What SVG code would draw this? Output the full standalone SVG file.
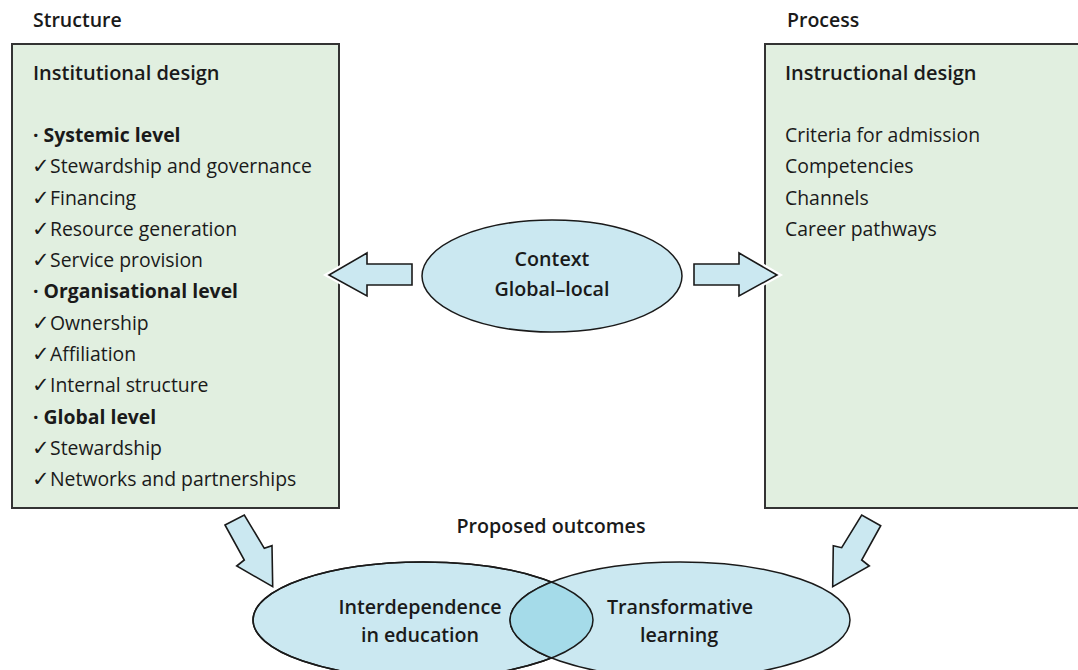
<svg xmlns="http://www.w3.org/2000/svg" width="1078" height="670" viewBox="0 0 1078 670">
  <style>
    .head { font-family: "Open Sans", "Noto Sans", sans-serif; font-size: 19.5px; font-weight: 600; fill: #1a1a1a; }
    .title { font-family: "Open Sans", "Noto Sans", sans-serif; font-size: 20px; font-weight: 600; fill: #1a1a1a; }
    .item { font-family: "Open Sans", "Noto Sans", sans-serif; font-size: 19.4px; fill: #1a1a1a; }
    .lvl { font-family: "Open Sans", "Noto Sans", sans-serif; font-size: 19.4px; font-weight: 700; fill: #1a1a1a; }
    .chk { font-family: "DejaVu Sans", sans-serif; font-size: 21px; font-weight: 700; fill: #1a1a1a; }
    .lbl { font-family: "Open Sans", "Noto Sans", sans-serif; font-size: 19.7px; font-weight: 600; fill: #1a1a1a; text-anchor: middle; }
    .box { fill: #e1efe0; stroke: #333; stroke-width: 2; }
    .oval { fill: #cbe8f1; stroke: #1a1a1a; stroke-width: 1.5; }
    .arrow-halo { fill: none; stroke: #fff; stroke-width: 6; stroke-linejoin: miter; }
    .arrow { fill: #cbe8f1; stroke: #1a1a1a; stroke-width: 1.6; stroke-linejoin: miter; }
  </style>

  <rect width="1078" height="670" fill="#fff"/>

  <!-- Structure column -->
  <g id="structure">
    <text class="head" x="33" y="27">Structure</text>
    <rect class="box" x="12" y="44" width="327" height="464"/>
    <text class="title" x="33" y="80">Institutional design</text>
    <text class="lvl" x="33" y="142">· Systemic level</text>
    <text class="chk" x="32" y="173.3">✓</text><text class="item" x="50" y="173.3">Stewardship and governance</text>
    <text class="chk" x="32" y="204.5">✓</text><text class="item" x="50" y="204.5">Financing</text>
    <text class="chk" x="32" y="235.7">✓</text><text class="item" x="50" y="235.7">Resource generation</text>
    <text class="chk" x="32" y="267">✓</text><text class="item" x="50" y="267">Service provision</text>
    <text class="lvl" x="33" y="298">· Organisational level</text>
    <text class="chk" x="32" y="329.5">✓</text><text class="item" x="50" y="329.5">Ownership</text>
    <text class="chk" x="32" y="361">✓</text><text class="item" x="50" y="361">Affiliation</text>
    <text class="chk" x="32" y="392">✓</text><text class="item" x="50" y="392">Internal structure</text>
    <text class="lvl" x="33" y="423.5">· Global level</text>
    <text class="chk" x="32" y="455">✓</text><text class="item" x="50" y="455">Stewardship</text>
    <text class="chk" x="32" y="486">✓</text><text class="item" x="50" y="486">Networks and partnerships</text>
  </g>

  <!-- Process column -->
  <g id="process">
    <text class="head" x="787" y="27">Process</text>
    <rect class="box" x="765" y="44" width="330" height="464"/>
    <text class="title" x="785" y="80">Instructional design</text>
    <text class="item" x="785" y="142">Criteria for admission</text>
    <text class="item" x="785" y="173.3">Competencies</text>
    <text class="item" x="785" y="204.5">Channels</text>
    <text class="item" x="785" y="236">Career pathways</text>
  </g>

  <!-- Context -->
  <g id="context">
    <ellipse class="oval" cx="552" cy="276" rx="130" ry="56"/>
    <text class="lbl" x="552" y="266">Context</text>
    <text class="lbl" x="552" y="296">Global–local</text>
  </g>

  <!-- Outcomes -->
  <g id="outcomes">
    <text class="lbl" x="551" y="533">Proposed outcomes</text>
  </g>
  <g id="interdependence">
    <ellipse class="oval" cx="423" cy="620" rx="170" ry="58"/>
  </g>
  <g id="transformative">
    <ellipse class="oval" cx="680" cy="620" rx="170" ry="58"/>
  </g>
  <g id="overlap">
    <defs>
      <clipPath id="leftOval"><ellipse cx="423" cy="620" rx="170" ry="58"/></clipPath>
    </defs>
    <ellipse cx="680" cy="620" rx="170" ry="58" fill="#a5dbe9" stroke="#1a1a1a" stroke-width="1.5" clip-path="url(#leftOval)"/>
    <ellipse cx="423" cy="620" rx="170" ry="58" fill="none" stroke="#1a1a1a" stroke-width="1.5"/>
    <text class="lbl" x="420" y="614">Interdependence</text>
    <text class="lbl" x="420" y="642">in education</text>
    <text class="lbl" x="680" y="614">Transformative</text>
    <text class="lbl" x="679" y="642">learning</text>
  </g>

  <!-- Block arrows -->
  <g id="connectors">
    <polygon class="arrow-halo" points="412,264 367,264 367,253 329,275 367,296 367,285 412,285"/>
    <polygon class="arrow" points="412,264 367,264 367,253 329,275 367,296 367,285 412,285"/>
    <polygon class="arrow-halo" points="694,264 739,264 739,253 777,275 739,296 739,285 694,285"/>
    <polygon class="arrow" points="694,264 739,264 739,253 777,275 739,296 739,285 694,285"/>
    <polygon class="arrow" points="225,525 244.3,515 264.3,548.3 272,545.7 272.7,586.7 236.7,566 244.3,560"/>
    <polygon class="arrow" points="880.7,525.7 861.7,515 841.7,547.7 833.3,545.7 832.7,586.7 869.3,566 861.7,560"/>
  </g>
</svg>
